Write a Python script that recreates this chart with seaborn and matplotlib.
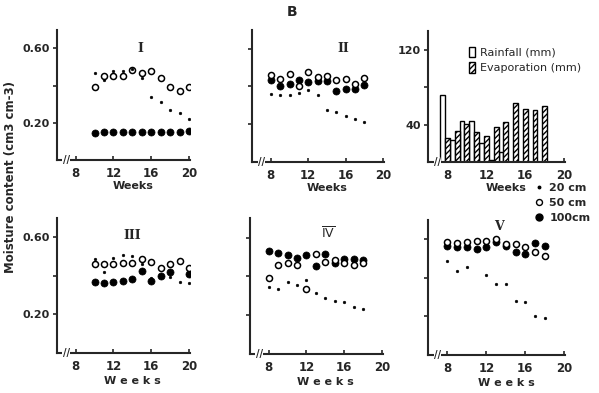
import numpy as np
import pandas as pd
import seaborn as sns
import matplotlib.pyplot as plt
from matplotlib.lines import Line2D
from matplotlib.patches import Patch

sns.set_style("ticks")
plt.rcParams["font.family"] = ["DejaVu Sans"]
plt.rcParams["hatch.linewidth"] = 1.0

# weeks sampled at each site
weeks_early = [8, 9, 10, 11, 12, 13, 14, 15, 16, 17, 18]
weeks_late = [10, 11, 12, 13, 14, 15, 16, 17, 18, 19, 20]

# site I (weeks 10-20)
p1_20 = [0.47, 0.43, 0.48, 0.48, 0.49, 0.44, 0.34, 0.31, 0.27, 0.25, 0.22]
p1_50 = [0.39, 0.45, 0.45, 0.45, 0.485, 0.47, 0.48, 0.44, 0.39, 0.37, 0.39]
p1_100 = [0.145, 0.148, 0.15, 0.15, 0.153, 0.15, 0.152, 0.15, 0.153, 0.152, 0.157]

# site II (weeks 8-18)
p2_20 = [0.36, 0.355, 0.355, 0.364, 0.382, 0.355, 0.274, 0.265, 0.242, 0.23, 0.21]
p2_50 = [0.459, 0.44, 0.466, 0.404, 0.477, 0.45, 0.454, 0.436, 0.44, 0.412, 0.445]
p2_100 = [0.436, 0.40, 0.412, 0.436, 0.423, 0.431, 0.431, 0.377, 0.388, 0.388, 0.409]

# site III (weeks 10-20)
p3_20 = [0.486, 0.42, 0.493, 0.506, 0.503, 0.464, 0.387, 0.40, 0.396, 0.37, 0.362]
p3_50 = [0.464, 0.46, 0.464, 0.467, 0.467, 0.489, 0.472, 0.44, 0.464, 0.477, 0.443]
p3_100 = [0.37, 0.362, 0.37, 0.375, 0.382, 0.425, 0.374, 0.40, 0.42, np.nan, 0.408]

# site IV (weeks 8-18)
p4_20 = [0.347, 0.335, 0.373, 0.356, 0.382, 0.314, 0.288, 0.274, 0.269, 0.245, 0.231]
p4_50 = [0.39, 0.461, 0.47, 0.46, 0.335, 0.513, 0.474, 0.482, 0.47, 0.46, 0.47]
p4_100 = [0.531, 0.52, 0.508, 0.496, 0.508, 0.451, 0.513, 0.47, 0.49, 0.49, 0.482]

# site V (weeks 8-18)
p5_20 = [0.486, 0.438, 0.458, np.nan, 0.417, 0.366, 0.369, 0.279, 0.274, 0.20, 0.19]
p5_50 = [0.588, 0.583, 0.588, 0.591, 0.591, 0.60, 0.574, 0.574, 0.562, 0.533, 0.511]
p5_100 = [0.566, 0.562, 0.562, 0.548, 0.562, 0.588, 0.566, 0.533, 0.524, 0.579, 0.566]

# weekly rainfall / evaporation (mm)
weeks_bar = [8, 9, 10, 11, 12, 13, 14, 15, 16, 17, 18]
rainfall = [72, 23, 44, 44, 20, 2, 11, 0, 0, 0, 0]
evaporation = [26, 33.5, 40.5, 31.5, 27.5, 37.5, 42.5, 62.5, 57, 56, 60]

fig = plt.figure(figsize=(5.99, 3.93), dpi=100)

panels = [
    ("I", weeks_late, p1_20, p1_50, p1_100, [0.095, 0.593, 0.222, 0.331], (14.9, 0.60), False),
    ("II", weeks_early, p2_20, p2_50, p2_100, [0.421, 0.588, 0.220, 0.336], (15.7, 0.60), False),
    ("III", weeks_late, p3_20, p3_50, p3_100, [0.095, 0.102, 0.222, 0.343], (14.0, 0.61), True),
    (r"$\overline{\mathrm{IV}}$", weeks_early, p4_20, p4_50, p4_100, [0.417, 0.099, 0.222, 0.346], (14.3, 0.62), True),
    ("V", weeks_early, p5_20, p5_50, p5_100, [0.7145, 0.097, 0.229, 0.343], (13.3, 0.665), True),
]


def style_axis(ax, bottom_row):
    sns.despine(ax=ax)
    for s in ["left", "bottom"]:
        ax.spines[s].set_linewidth(1.5)
    ax.set_xlim(6, 20.1)
    ax.set_xticks([8, 12, 16, 20])
    ax.tick_params(axis="y", direction="out", length=3, width=1.2, labelsize=8, pad=2)
    ax.tick_params(axis="x", direction="in", length=3, width=1.2, labelsize=8.5, pad=5)
    for lab in ax.get_xticklabels() + ax.get_yticklabels():
        lab.set_fontweight("bold")
    ax.set_xlabel("W e e k s" if bottom_row else "Weeks", fontsize=8, fontweight="bold")
    ax.xaxis.set_label_coords(0.571, -0.16 if not bottom_row else -0.17)
    ax.set_ylabel("")
    ax.text(0.07, 0.0, "//", transform=ax.transAxes, ha="center", va="center",
            fontsize=7, fontweight="bold",
            bbox=dict(facecolor="white", edgecolor="none", pad=0.3))


for name, wk, d20, d50, d100, pos, lab_xy, bottom_row in panels:
    ax = fig.add_axes(pos)
    sns.scatterplot(x=wk, y=d100, ax=ax, color="black", s=26, edgecolor="black", linewidth=0.5)
    sns.scatterplot(x=wk, y=d50, ax=ax, color="white", s=19, edgecolor="black", linewidth=1.1)
    sns.scatterplot(x=wk, y=d20, ax=ax, color="black", s=4, edgecolor="black", linewidth=0.3)
    ax.set_ylim(0, 0.7)
    ax.set_yticks([0.2, 0.4, 0.6])
    if pos[0] < 0.2:
        ax.set_yticklabels(["0.20", "", "0.60"])
    else:
        ax.set_yticklabels(["", "", ""])
    style_axis(ax, bottom_row)
    ax.text(lab_xy[0], lab_xy[1], name, ha="center", va="center",
            fontsize=9, fontweight="bold", family="DejaVu Serif")

# rainfall / evaporation panel
axb = fig.add_axes([0.7145, 0.588, 0.229, 0.333])
rain_x = [w - 0.5 for w in weeks_bar]
sns.barplot(x=rain_x, y=rainfall, native_scale=True, width=0.5, errorbar=None,
            color="white", edgecolor="black", linewidth=1.0, ax=axb)
sns.barplot(x=weeks_bar, y=evaporation, native_scale=True, width=0.5, errorbar=None,
            color="white", edgecolor="black", linewidth=1.0, hatch="//////", ax=axb)
axb.set_ylim(0, 140)
axb.set_yticks([40, 80, 120])
axb.set_yticklabels(["40", "", "120"])
style_axis(axb, False)
bar_handles = [
    Patch(facecolor="white", edgecolor="black", linewidth=1.0, label="Rainfall (mm)"),
    Patch(facecolor="white", edgecolor="black", linewidth=1.0, hatch="//////", label="Evaporation (mm)"),
]
axb.legend(handles=bar_handles, loc="upper left", bbox_to_anchor=(0.30, 0.88), frameon=False,
           fontsize=8, handlelength=0.5, handleheight=1.1, handletextpad=0.5,
           labelspacing=0.4, borderaxespad=0, borderpad=0)

# depth legend
depth_handles = [
    Line2D([], [], ls="", marker="o", color="black", markersize=1.8, label="20 cm"),
    Line2D([], [], ls="", marker="o", mfc="white", mec="black", markersize=4.3, label="50 cm"),
    Line2D([], [], ls="", marker="o", color="black", markersize=5, label="100cm"),
]
fig.legend(handles=depth_handles, loc="upper left", bbox_to_anchor=(0.895, 0.535), frameon=False,
           prop={"size": 8, "weight": "bold"}, handlelength=0.6, handletextpad=0.6,
           labelspacing=0.45, borderpad=0, borderaxespad=0)

fig.text(292 / 599, 1 - 12 / 393, "B", ha="center", va="center", fontsize=10, fontweight="bold")
fig.text(0.017, 0.55, "Moisture content (cm3 cm-3)", rotation=90, ha="center", va="center",
         fontsize=8.5, fontweight="bold")

fig.savefig("out.png", dpi=100)
